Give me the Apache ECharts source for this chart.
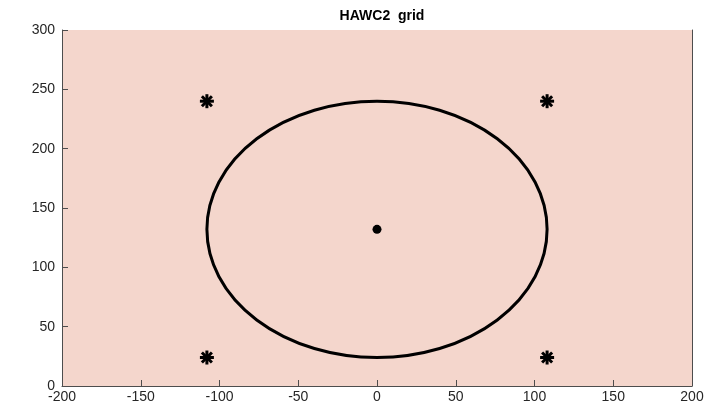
<!DOCTYPE html>
<html>
<head>
<meta charset="utf-8">
<script src="https://cdn.jsdelivr.net/npm/echarts@6/dist/echarts.min.js"></script>
<style>
  html, body { margin: 0; padding: 0; background: #ffffff; }
  #chart { width: 726px; height: 412px; }
</style>
</head>
<body>
<div id="chart"></div>
<script>
// Rotor disc on the HAWC2 turbulence grid
const xTicks = [-200, -150, -100, -50, 0, 50, 100, 150, 200];
const yTicks = [0, 50, 100, 150, 200, 250, 300];
const hubCenter = [0, 132];          // hub position (lateral, height)
const rotorRadius = [108, 108];      // rotor radius in x and y
const gridCorners = [[-108, 240], [108, 240], [-108, 24], [108, 24]];

const chart = echarts.init(document.getElementById('chart'));
const font = 'Liberation Sans, Arial, sans-serif';
const axisColor = '#4d4d4d';

chart.setOption({
  animation: false,
  backgroundColor: '#ffffff',
  title: {
    text: 'HAWC2  grid',
    left: 377, top: 4, textAlign: 'center',
    textStyle: { fontFamily: font, fontSize: 14, fontWeight: 'bold', color: '#000' }
  },
  grid: {
    left: 62, right: 34, top: 30, bottom: 26,
    show: true, backgroundColor: '#f4d6cc', borderWidth: 0
  },
  xAxis: {
    type: 'value', min: xTicks[0], max: xTicks[xTicks.length - 1], interval: 50,
    axisLine: { show: true, onZero: false, lineStyle: { color: axisColor, width: 1 } },
    axisTick: { show: true, inside: true, length: 6, lineStyle: { color: axisColor } },
    axisLabel: { fontFamily: font, fontSize: 14, color: '#262626', margin: 4 },
    splitLine: { show: false }
  },
  yAxis: [
    {
      type: 'value', min: yTicks[0], max: yTicks[yTicks.length - 1], interval: 50,
      axisLine: { show: true, onZero: false, lineStyle: { color: axisColor, width: 1 } },
      axisTick: { show: true, inside: true, length: 6, lineStyle: { color: axisColor } },
      axisLabel: { fontFamily: font, fontSize: 14, color: '#262626', margin: 7 },
      splitLine: { show: false }
    },
    {
      // right-hand frame edge
      type: 'value', position: 'right', min: yTicks[0], max: yTicks[yTicks.length - 1], interval: 50,
      axisLine: { show: true, onZero: false, lineStyle: { color: axisColor, width: 1 } },
      axisTick: { show: false }, axisLabel: { show: false }, splitLine: { show: false }
    }
  ],
  series: [
    {
      // rotor outline
      type: 'custom',
      data: [[hubCenter[0], hubCenter[1], rotorRadius[0], rotorRadius[1]]],
      renderItem: function (params, api) {
        const c = api.coord([api.value(0), api.value(1)]);
        const s = api.size([api.value(2), api.value(3)]);
        const rx = s[0], ry = s[1];
        const d = 'M' + (c[0] - rx) + ' ' + c[1] +
          ' A' + rx + ' ' + ry + ' 0 1 0 ' + (c[0] + rx) + ' ' + c[1] +
          ' A' + rx + ' ' + ry + ' 0 1 0 ' + (c[0] - rx) + ' ' + c[1] + ' Z';
        return {
          type: 'path',
          shape: { pathData: d },
          style: { fill: 'none', stroke: '#000', lineWidth: 3 }
        };
      },
      z: 3
    },
    {
      // grid corner markers
      type: 'custom',
      data: gridCorners,
      renderItem: function (params, api) {
        const c = api.coord([api.value(0), api.value(1)]);
        const h = 7, d = 5;
        const segs = [[0, -h, 0, h], [-h, 0, h, 0], [-d, -d, d, d], [-d, d, d, -d]];
        return {
          type: 'group',
          children: segs.map(function (g) {
            return {
              type: 'line',
              shape: { x1: c[0] + g[0], y1: c[1] + g[1], x2: c[0] + g[2], y2: c[1] + g[3] },
              style: { stroke: '#000', lineWidth: 3 }
            };
          })
        };
      },
      z: 4
    },
    {
      // hub
      type: 'scatter',
      data: [hubCenter],
      symbol: 'circle', symbolSize: 9,
      itemStyle: { color: '#000', opacity: 1 },
      z: 5
    }
  ]
});
</script>
</body>
</html>
